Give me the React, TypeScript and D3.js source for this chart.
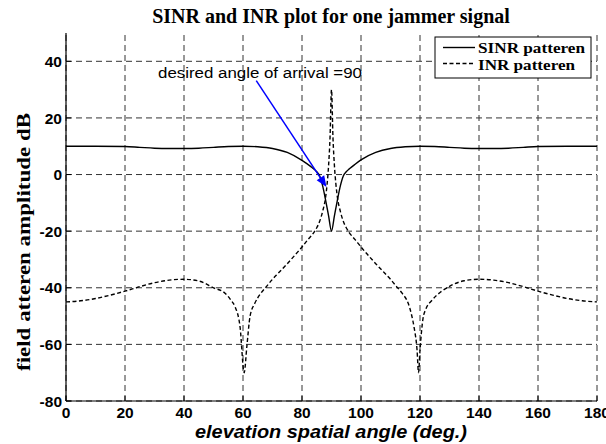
import React from "react";
import * as d3 from "d3";

const sinrAngles = [0, 10, 20, 25, 30, 35, 40, 45, 50, 55, 60, 65, 70, 75, 80, 83, 84, 85, 86, 87, 88, 89, 90, 91, 92, 93, 94, 95, 96, 97, 100, 105, 110, 115, 120, 125, 130, 135, 140, 145, 150, 155, 160, 170, 180];
const sinrValues = [10, 10, 9.9, 9.6, 9.3, 9.2, 9.2, 9.3, 9.6, 9.9, 10, 9.8, 9.2, 7.8, 5.0, 2.8, 2.0, 1.0, -0.5, -4, -9, -14.5, -20, -14.5, -9, -4, -0.5, 1.0, 2.0, 2.8, 5.2, 7.8, 9.2, 9.8, 10, 9.9, 9.6, 9.3, 9.2, 9.2, 9.3, 9.6, 9.9, 10, 10];

const inrAngles = [0, 5, 10, 15, 20, 25, 30, 35, 40, 45, 50, 54, 56, 57.3, 59, 60.4, 61.3, 62.4, 64, 66, 68, 70, 72, 75, 78, 80, 82, 84, 85, 86, 87, 88, 88.5, 89, 89.5, 90, 90.5, 91, 91.5, 92, 93, 94, 95, 96, 98, 100, 102, 105, 108, 110, 112, 114, 116, 117, 118, 119, 119.5, 120, 121, 122, 124, 127, 130, 135, 140, 145, 150, 155, 160, 165, 170, 175, 180];
const inrValues = [-45, -44.6, -43.8, -42.6, -41.2, -39.6, -38.2, -37.3, -37, -37.6, -40, -42, -44.5, -46.7, -53.8, -70, -60.8, -50, -45.5, -42, -39.5, -37, -34.8, -31.5, -28, -25.6, -23, -20.5, -18.8, -16.5, -13, -8, -3.5, 3, 13, 30, 13, 3, -3.5, -8, -13, -16.5, -18.8, -20.5, -23, -25.6, -28, -31.5, -34.8, -37, -39.5, -42, -45.5, -49, -54, -62, -70, -62, -51, -47.5, -44.5, -41.5, -39.5, -37.5, -37, -37.3, -38.2, -39.6, -41.2, -42.6, -43.8, -44.6, -45];

const xTicks = [0, 20, 40, 60, 80, 100, 120, 140, 160, 180];
const yTicks = [-80, -60, -40, -20, 0, 20, 40];

const titleText = "SINR and INR plot for one jammer signal";
const xLabel = "elevation spatial angle (deg.)";
const yLabel = "field atteren amplitude dB";
const legendLabels = ["SINR patteren", "INR patteren"];
const annotationText = "desired angle of arrival =90";
const annotationFrom = [64.5, 33.2];
const annotationTo = [88.3, -4.4];

export default function App() {
  const left = 66, right = 597, top = 33, bottom = 401;
  const x = d3.scaleLinear().domain([0, 180]).range([left, right]);
  const y = d3.scaleLinear().domain([-80, 50]).range([bottom, top]);
  const sinrData = sinrAngles.map((a, i) => [a, sinrValues[i]] as [number, number]);
  const inrData = inrAngles.map((a, i) => [a, inrValues[i]] as [number, number]);
  const line = d3
    .line<[number, number]>()
    .x((d) => x(d[0]))
    .y((d) => y(d[1]))
    .curve(d3.curveMonotoneX);

  const sans = "'Liberation Sans', Arial, sans-serif";
  const serif = "'Liberation Serif', 'Times New Roman', serif";

  const ax0 = x(annotationFrom[0]), ay0 = y(annotationFrom[1]);
  const ax1 = x(annotationTo[0]), ay1 = y(annotationTo[1]);
  const ang = Math.atan2(ay1 - ay0, ax1 - ax0);
  const hl = 11, hw = 4.5;
  const bx = ax1 - hl * Math.cos(ang), by = ay1 - hl * Math.sin(ang);
  const head = [
    [ax1, ay1],
    [bx + hw * Math.sin(ang), by - hw * Math.cos(ang)],
    [bx - hw * Math.sin(ang), by + hw * Math.cos(ang)],
  ];

  return (
    <svg
      width={606}
      height={444}
      style={{ position: "absolute", left: 0, top: 0, background: "#fff" }}
    >
      <rect x={0} y={0} width={606} height={444} fill="#fff" />
      {/* grid */}
      {xTicks.map((t) => (
        <line key={"gx" + t} x1={x(t)} x2={x(t)} y1={bottom} y2={top} stroke="#333" strokeWidth={1} strokeDasharray="6,4" />
      ))}
      {yTicks.map((t) => (
        <line key={"gy" + t} x1={left} x2={right} y1={y(t)} y2={y(t)} stroke="#333" strokeWidth={1} strokeDasharray="6,4" />
      ))}
      {/* axes */}
      <line x1={left} x2={left} y1={top} y2={bottom} stroke="#000" strokeWidth={1.2} />
      <line x1={left} x2={right} y1={bottom} y2={bottom} stroke="#000" strokeWidth={1.2} />
      {xTicks.map((t) => (
        <line key={"tx" + t} x1={x(t)} x2={x(t)} y1={bottom} y2={bottom - 5} stroke="#000" />
      ))}
      {yTicks.map((t) => (
        <line key={"ty" + t} x1={left} x2={left + 5} y1={y(t)} y2={y(t)} stroke="#000" />
      ))}
      {/* curves */}
      <path d={line(sinrData) || ""} fill="none" stroke="#000" strokeWidth={1.4} />
      <path d={line(inrData) || ""} fill="none" stroke="#000" strokeWidth={1.4} strokeDasharray="4,2.5" />
      {/* tick labels */}
      {yTicks.map((t) => (
        <text key={"ly" + t} x={62} y={y(t)} dy="0.36em" textAnchor="end" fontFamily={sans} fontWeight="bold" fontSize={15.5}>
          {t}
        </text>
      ))}
      {xTicks.map((t) => (
        <text key={"lx" + t} x={x(t)} y={418} textAnchor="middle" fontFamily={sans} fontWeight="bold" fontSize={15.5}>
          {t}
        </text>
      ))}
      {/* titles */}
      <text x={331} y={23} textAnchor="middle" fontFamily={serif} fontWeight="bold" fontSize={20}>
        {titleText}
      </text>
      <text x={331} y={438} textAnchor="middle" fontFamily={sans} fontWeight="bold" fontStyle="italic" fontSize={18} textLength={272} lengthAdjust="spacingAndGlyphs">
        {xLabel}
      </text>
      <text transform="translate(30,242) rotate(-90)" textAnchor="middle" fontFamily={serif} fontWeight="bold" fontSize={18} textLength={258} lengthAdjust="spacingAndGlyphs">
        {yLabel}
      </text>
      {/* legend */}
      <rect x={435} y={37} width={156} height={41} fill="#fff" stroke="#000" strokeWidth={1} />
      <line x1={443} x2={475} y1={47.5} y2={47.5} stroke="#000" strokeWidth={1.4} />
      <line x1={443} x2={475} y1={63.5} y2={63.5} stroke="#000" strokeWidth={1.4} strokeDasharray="4,2.5" />
      <text x={478} y={53} fontFamily={serif} fontWeight="bold" fontSize={15.5} textLength={107} lengthAdjust="spacingAndGlyphs">
        {legendLabels[0]}
      </text>
      <text x={478} y={69.5} fontFamily={serif} fontWeight="bold" fontSize={15.5} textLength={97} lengthAdjust="spacingAndGlyphs">
        {legendLabels[1]}
      </text>
      {/* annotation */}
      <text x={158} y={77.5} fontFamily={sans} fontSize={15.5} textLength={204} lengthAdjust="spacingAndGlyphs">
        {annotationText}
      </text>
      <line x1={ax0} y1={ay0} x2={bx} y2={by} stroke="#0000ff" strokeWidth={1.5} />
      <polygon points={head.map((p) => p.join(",")).join(" ")} fill="#0000ff" />
    </svg>
  );
}
